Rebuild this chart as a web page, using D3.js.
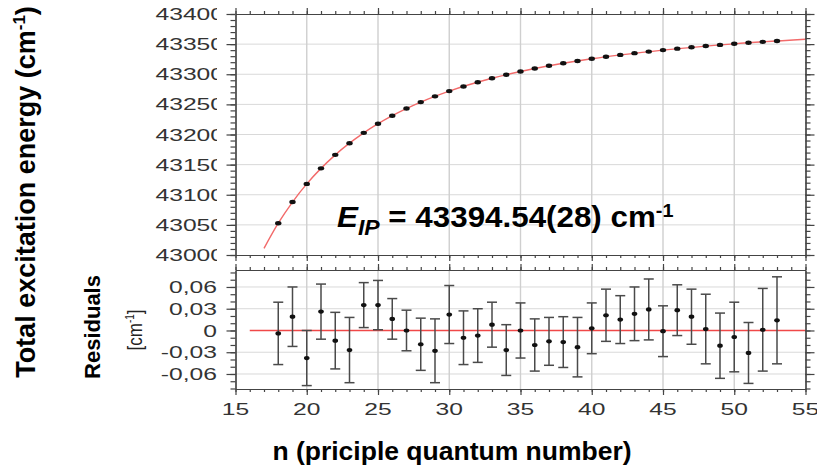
<!DOCTYPE html>
<html>
<head>
<meta charset="utf-8">
<script src="https://cdn.jsdelivr.net/npm/d3@7"></script>
<style>
  body { margin: 0; background: #fff; }
  svg { display: block; font-family: "Liberation Sans", Arial, sans-serif; }
  .axis .domain, .axis line { stroke: #444; stroke-width: 1.2; }
  .grid line { stroke: #d9d9d9; stroke-width: 1; }
  .vgrid line { stroke: #cfcfcf; stroke-width: 1.4; }
</style>
</head>
<body>
<svg id="chart" width="817" height="467"></svg>
<script>
// principal quantum number of each measured level
const nValues = [18, 19, 20, 21, 22, 23, 24, 25, 26, 27, 28, 29, 30, 31, 32, 33, 34, 35,
                 36, 37, 38, 39, 40, 41, 42, 43, 44, 45, 46, 47, 48, 49, 50, 51, 52, 53];
// total excitation energy (cm-1)
const energies = [43052.8, 43087.9, 43118.0, 43143.8, 43166.2, 43185.6, 43202.7, 43217.8,
                  43231.2, 43243.1, 43253.8, 43263.3, 43272.0, 43279.7, 43286.8, 43293.3,
                  43299.2, 43304.5, 43309.5, 43314.0, 43318.2, 43322.1, 43325.7, 43329.0,
                  43332.1, 43335.0, 43337.6, 43340.1, 43342.5, 43344.7, 43346.8, 43348.7,
                  43350.5, 43352.2, 43353.8, 43355.3];
// fit residuals and their uncertainties (cm-1)
const residuals = [-0.004, 0.019, -0.038, 0.026, -0.014, -0.027, 0.035, 0.035, 0.016, 0.000,
                   -0.019, -0.028, 0.022, -0.010, -0.007, 0.008, -0.027, 0.000, -0.020, -0.015,
                   -0.016, -0.023, 0.003, 0.021, 0.015, 0.023, 0.029, -0.001, 0.028, 0.019,
                   0.002, -0.021, -0.009, -0.031, 0.001, 0.014];
const resErrors = [0.043, 0.041, 0.038, 0.038, 0.039, 0.045, 0.031, 0.034, 0.028, 0.028,
                   0.036, 0.044, 0.040, 0.037, 0.037, 0.031, 0.035, 0.038, 0.036, 0.033,
                   0.035, 0.041, 0.035, 0.036, 0.033, 0.037, 0.042, 0.035, 0.035, 0.038,
                   0.048, 0.045, 0.048, 0.042, 0.057, 0.060];
// Rydberg fit curve
const fitN = [17, 18, 19, 20, 22, 24, 26, 28, 30, 33, 36, 40, 45, 50, 55];
const fitE = [43011, 43052.8, 43087.9, 43118.0, 43166.2, 43202.7, 43231.2, 43253.8,
              43272.0, 43293.3, 43309.5, 43325.7, 43340.1, 43350.5, 43358.1];
const zeroLineN = [16, 55];

const xTicks = [15, 20, 25, 30, 35, 40, 45, 50, 55];
const xTickLabels = ['15', '20', '25', '30', '35', '40', '45', '50', '55'];
const yTicksTop = [43000, 43050, 43100, 43150, 43200, 43250, 43300, 43350, 43400];
const yTickLabelsTop = ['43000', '43050', '43100', '43150', '43200', '43250', '43300', '43350', '43400'];
const yTicksRes = [-0.06, -0.03, 0, 0.03, 0.06];
const yTickLabelsRes = ['-0,06', '-0,03', '0', '0,03', '0,06'];

const svg = d3.select('#chart');
const left = 235.5, right = 805.5;
const top1 = 14, bottom1 = 255;
const top2 = 270, bottom2 = 389;
const stretch = 1.45;

const x = d3.scaleLinear().domain([15, 55]).range([left, right]);
const yTop = d3.scaleLinear().domain([43000, 43400]).range([bottom1, top1]);
const yRes = d3.scaleLinear().domain([-0.0807, 0.0834]).range([bottom2, top2]);

const minorX = d3.range(15, 56, 1);
const minorYTop = d3.range(43000, 43401, 10);
const minorYRes = d3.range(-8, 9).map(d => d / 100);
const innerX = xTicks.slice(1, -1);

function grid(yScale, yMajors, y0, y1) {
    svg.append('g').attr('class', 'grid')
        .selectAll('line').data(yMajors.filter(v => v > yScale.domain()[0] && v < yScale.domain()[1]))
        .join('line')
        .attr('x1', left).attr('x2', right)
        .attr('y1', d => yScale(d)).attr('y2', d => yScale(d));
    svg.append('g').attr('class', 'vgrid')
        .selectAll('line').data(innerX)
        .join('line')
        .attr('x1', d => x(d)).attr('x2', d => x(d))
        .attr('y1', y0).attr('y2', y1);
}

function frame(yScale, y0, y1, yMinor, yMajor) {
    const addAxis = (axis, tx, ty) => svg.append('g').attr('class', 'axis')
        .attr('transform', `translate(${tx},${ty})`).call(axis);
    addAxis(d3.axisTop(x).tickValues(minorX).tickSize(3).tickSizeOuter(0).tickFormat(''), 0, y0);
    addAxis(d3.axisTop(x).tickValues(xTicks).tickSize(6).tickSizeOuter(0).tickFormat(''), 0, y0);
    addAxis(d3.axisBottom(x).tickValues(minorX).tickSize(3).tickSizeOuter(0).tickFormat(''), 0, y1);
    addAxis(d3.axisBottom(x).tickValues(xTicks).tickSize(6).tickSizeOuter(0).tickFormat(''), 0, y1);
    addAxis(d3.axisLeft(yScale).tickValues(yMinor).tickSize(5).tickSizeOuter(0).tickFormat(''), left, 0);
    addAxis(d3.axisLeft(yScale).tickValues(yMajor).tickSize(9).tickSizeOuter(0).tickFormat(''), left, 0);
    addAxis(d3.axisRight(yScale).tickValues(yMinor).tickSize(5).tickSizeOuter(0).tickFormat(''), right, 0);
    addAxis(d3.axisRight(yScale).tickValues(yMajor).tickSize(9).tickSizeOuter(0).tickFormat(''), right, 0);
}

// ---------- top panel ----------
grid(yTop, yTicksTop, top1, bottom1);

const fitData = fitN.map((n, i) => ({ n, e: fitE[i] }));
svg.append('path')
    .datum(fitData)
    .attr('fill', 'none')
    .attr('stroke', '#f26a6a')
    .attr('stroke-width', 1.4)
    .attr('d', d3.line().x(d => x(d.n)).y(d => yTop(d.e)).curve(d3.curveMonotoneX));

svg.append('g').selectAll('ellipse')
    .data(nValues.map((n, i) => ({ n, e: energies[i] })))
    .join('ellipse')
    .attr('cx', d => x(d.n)).attr('cy', d => yTop(d.e))
    .attr('rx', 3.2).attr('ry', 2.2)
    .attr('fill', '#111');

frame(yTop, top1, bottom1, minorYTop, yTicksTop);

svg.append('clipPath').attr('id', 'labelClip')
    .append('rect').attr('x', 0).attr('y', 0).attr('width', 217).attr('height', 467);

svg.append('g').attr('clip-path', 'url(#labelClip)')
    .selectAll('text').data(yTicksTop)
    .join('text')
    .attr('transform', d => `translate(224,${yTop(d)}) scale(${stretch},1)`)
    .attr('text-anchor', 'end')
    .attr('dy', '0.36em')
    .attr('font-size', 17)
    .attr('fill', '#333')
    .text((d, i) => yTickLabelsTop[i]);

// annotation
const ann = svg.append('text')
    .attr('transform', 'translate(337,227) scale(1.045,1)')
    .attr('font-size', 30).attr('font-weight', 'bold').attr('fill', '#000');
ann.append('tspan').attr('font-style', 'italic').text('E');
ann.append('tspan').attr('font-style', 'italic').attr('font-size', 22).attr('dy', 8).text('IP');
ann.append('tspan').attr('dy', -8).text(' = 43394.54(28) cm');
ann.append('tspan').attr('font-size', 19).attr('dy', -10).text('-1');

// ---------- residual panel ----------
grid(yRes, yTicksRes.filter(v => v !== 0), top2, bottom2);

svg.append('line')
    .attr('x1', x(zeroLineN[0])).attr('x2', x(zeroLineN[1]))
    .attr('y1', yRes(0)).attr('y2', yRes(0))
    .attr('stroke', '#f04848').attr('stroke-width', 1.3);

const resData = nValues.map((n, i) => ({ n, r: residuals[i], e: resErrors[i] }));
const bars = svg.append('g').attr('stroke', '#4a4a4a').attr('stroke-width', 1.5);
bars.selectAll('.stem').data(resData).join('line').attr('class', 'stem')
    .attr('x1', d => x(d.n)).attr('x2', d => x(d.n))
    .attr('y1', d => yRes(d.r + d.e)).attr('y2', d => yRes(d.r - d.e));
bars.selectAll('.capTop').data(resData).join('line').attr('class', 'capTop')
    .attr('x1', d => x(d.n) - 5).attr('x2', d => x(d.n) + 5)
    .attr('y1', d => yRes(d.r + d.e)).attr('y2', d => yRes(d.r + d.e));
bars.selectAll('.capBot').data(resData).join('line').attr('class', 'capBot')
    .attr('x1', d => x(d.n) - 5).attr('x2', d => x(d.n) + 5)
    .attr('y1', d => yRes(d.r - d.e)).attr('y2', d => yRes(d.r - d.e));

svg.append('g').selectAll('ellipse').data(resData)
    .join('ellipse')
    .attr('cx', d => x(d.n)).attr('cy', d => yRes(d.r))
    .attr('rx', 2.8).attr('ry', 2.1)
    .attr('fill', '#111');

frame(yRes, top2, bottom2, minorYRes, yTicksRes);

svg.append('g').selectAll('text').data(yTicksRes)
    .join('text')
    .attr('transform', d => `translate(217,${yRes(d)}) scale(${stretch},1)`)
    .attr('text-anchor', 'end')
    .attr('dy', '0.36em')
    .attr('font-size', 17)
    .attr('fill', '#333')
    .text((d, i) => yTickLabelsRes[i]);

svg.append('g').selectAll('text').data(xTicks)
    .join('text')
    .attr('transform', d => `translate(${x(d)},415) scale(${stretch},1)`)
    .attr('text-anchor', 'middle')
    .attr('font-size', 17)
    .attr('fill', '#333')
    .text((d, i) => xTickLabels[i]);

// ---------- axis titles ----------
const yTitle = svg.append('text')
    .attr('transform', 'translate(35,192) rotate(-90)')
    .attr('text-anchor', 'middle')
    .attr('font-size', 27).attr('font-weight', 'bold');
yTitle.append('tspan').text('Total excitation energy (cm');
yTitle.append('tspan').attr('font-size', 17).attr('dy', -10).text('-1');
yTitle.append('tspan').attr('dy', 10).text(')');

svg.append('text')
    .attr('transform', 'translate(100,327) rotate(-90)')
    .attr('text-anchor', 'middle')
    .attr('font-size', 22).attr('font-weight', 'bold')
    .text('Residuals');

const unit = svg.append('text')
    .attr('transform', `translate(142,330) scale(1.2,1) rotate(-90)`)
    .attr('text-anchor', 'middle')
    .attr('font-size', 17).attr('fill', '#222');
unit.append('tspan').text('[cm');
unit.append('tspan').attr('font-size', 10).attr('dy', -7).text('-1');
unit.append('tspan').attr('dy', 7).text(']');

svg.append('text')
    .attr('x', 452).attr('y', 460)
    .attr('text-anchor', 'middle')
    .attr('font-size', 26.5).attr('font-weight', 'bold')
    .text('n (priciple quantum number)');
</script>
</body>
</html>
